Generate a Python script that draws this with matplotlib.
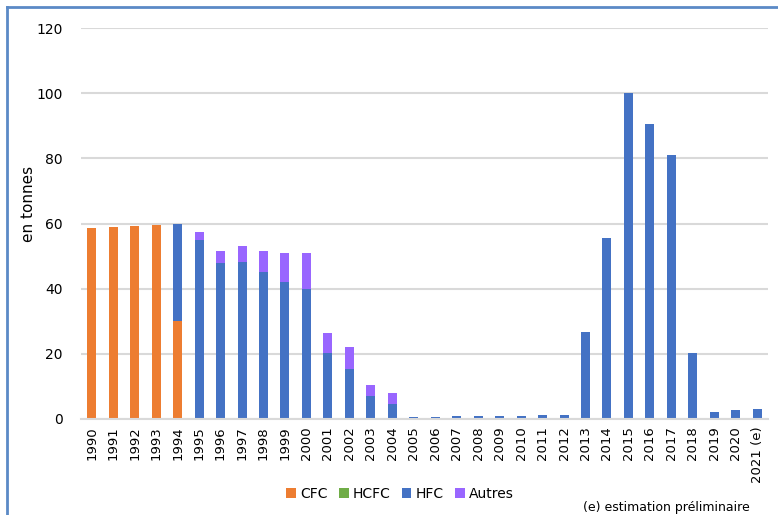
import matplotlib.pyplot as plt
import numpy as np
from matplotlib.lines import Line2D

# emissions par famille de gaz, en tonnes
annees = [str(a) for a in range(1990, 2021)] + ['2021 (e)']
cfc = [58.7, 59.0, 59.3, 59.6, 30.0] + [0] * 27
hcfc = [0] * 32
hfc = [0, 0, 0, 0, 29.9, 55.0, 48.0, 48.2, 45.2, 42.1, 39.8, 20.3, 15.3, 7.1, 4.7,
       0.5, 0.7, 0.8, 1.0, 1.0, 1.0, 1.2, 1.3, 26.7, 55.7, 100.0, 90.6, 81.0, 20.2,
       2.3, 2.7, 3.0]
autres = [0, 0, 0, 0, 0, 2.4, 3.7, 4.9, 6.5, 8.7, 11.0, 6.1, 6.8, 3.4, 3.3] + [0] * 17

couleurs = {'CFC': '#ED7D31', 'HCFC': '#70AD47', 'HFC': '#4472C4', 'Autres': '#9966FF'}

fig = plt.figure(figsize=(7.78, 5.15), dpi=100)
ax = fig.add_axes([81 / 778, 1 - 419 / 515, 687 / 778, 391 / 515])

x = np.arange(len(annees))
w = 0.42
bas = np.zeros(len(annees))
for nom, vals in [('CFC', cfc), ('HCFC', hcfc), ('HFC', hfc), ('Autres', autres)]:
    vals = np.array(vals)
    ax.bar(x, vals, w, bottom=bas, color=couleurs[nom], label=nom, linewidth=0)
    bas = bas + vals

ax.set_xlim(-0.5, len(annees) - 0.5)
ax.set_ylim(0, 120)
ax.set_yticks(range(0, 121, 20))
ax.yaxis.grid(True, color='#D9D9D9', linewidth=1.5)
ax.set_axisbelow(True)
for s in ['top', 'right', 'left']:
    ax.spines[s].set_visible(False)
ax.spines['bottom'].set_color('#D9D9D9')
ax.spines['bottom'].set_linewidth(1.5)
ax.tick_params(length=0)
ax.tick_params(axis='y', labelsize=10, pad=13)
ax.set_xticks(x)
ax.set_xticklabels(annees, rotation=90, fontsize=9.5)
ax.tick_params(axis='x', pad=5)
ax.set_ylabel('en tonnes', fontsize=11)
ax.yaxis.set_label_coords(-0.066, 0.55)

ax.legend(loc='lower center', bbox_to_anchor=(400 / 778, 0.0), bbox_transform=fig.transFigure,
          ncol=4, frameon=False, fontsize=10, handlelength=0.7, handleheight=0.7,
          handletextpad=0.3, columnspacing=0.8, borderaxespad=0.6)
fig.text(750 / 778, 1 - 507 / 515, '(e) estimation préliminaire', ha='right', va='center',
         fontsize=9)

# cadre bleu (coupé à droite et en bas)
fig.add_artist(Line2D([7 / 778, 7 / 778], [-0.1, 1 - 7 / 515], color='#5B8AC6', linewidth=2))
fig.add_artist(Line2D([7 / 778, 1.1], [1 - 7 / 515, 1 - 7 / 515], color='#5B8AC6', linewidth=2))

fig.savefig('out.png', dpi=100)
